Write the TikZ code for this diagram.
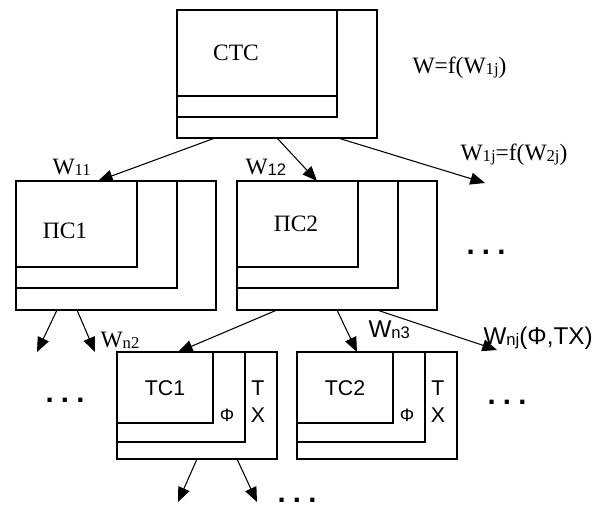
\documentclass[tikz,border=0pt]{standalone}
\usepackage{fontspec}
\setmainfont{Liberation Serif}
\newfontfamily\arialf{Liberation Sans}
\usetikzlibrary{arrows.meta,calc}
\newcommand\sbt[1]{\raisebox{-0.8pt}{\fontsize{12.5}{13}\selectfont #1}}
\newcommand\dotsthree{.\hspace{5.4pt}.\hspace{5.4pt}.}
\begin{document}
\begin{tikzpicture}[x=0.75pt,y=-0.75pt, line width=0.8pt,
  arr/.style={-{Triangle[length=11pt,width=9pt]}},
  box/.style={draw, anchor=north west, inner sep=0pt, outer sep=0pt},
  tm/.style={font=\fontsize{17.6}{20}\selectfont, inner sep=0pt},
  sf/.style={font=\arialf\fontsize{16}{18}\selectfont, inner sep=0pt},
  sfl/.style={font=\arialf\fontsize{18.2}{20}\selectfont, inner sep=0pt},
  sfs/.style={font=\arialf\fontsize{13.5}{15}\selectfont, inner sep=0pt},
  dotn/.style={font=\arialf\bfseries\fontsize{22}{24}\selectfont, inner sep=0pt}]
\useasboundingbox (0,0) rectangle (600,510);

% ---- top box CTC
\node[box, minimum width=150pt, minimum height=96pt] (ctc) at (177,10) {};
\draw ($(ctc.north west)+(160,0)$) -- ++(0,107) -- ++(-160,0);
\draw ($(ctc.north west)+(0,86)$) -- ++(160,0);
\node[tm] (ctct) at (236,53) {CTC};

% ---- PC1
\node[box, minimum width=150pt, minimum height=96.75pt] (pc1) at (16,181) {};
\draw ($(pc1.north west)+(121,0)$) -- ++(0,86) -- ++(-121,0);
\draw ($(pc1.north west)+(161,0)$) -- ++(0,107) -- ++(-161,0);
\node[tm] (pc1t) at (65,231) {ПС1};

% ---- PC2
\node[box, minimum width=150pt, minimum height=96.75pt] (pc2) at (237,181) {};
\draw ($(pc2.north west)+(121,0)$) -- ++(0,86) -- ++(-121,0);
\draw ($(pc2.north west)+(161,0)$) -- ++(0,107) -- ++(-161,0);
\node[tm] (pc2t) at (296,224) {ПС2};

% ---- TC1
\node[box, minimum width=120pt, minimum height=80.25pt] (tc1) at (117,352) {};
\draw ($(tc1.north west)+(96,0)$) -- ++(0,71) -- ++(-96,0);
\draw ($(tc1.north west)+(128,0)$) -- ++(0,90) -- ++(-128,0);
\node[sf] (tc1t) at (165,388) {TC1};
\node[sfs] (tc1f) at (227,415) {Φ};
\node[sf] (tc1a) at (258,388) {T};
\node[sf] (tc1b) at (258,415) {X};

% ---- TC2
\node[box, minimum width=120pt, minimum height=80.25pt] (tc2) at (297,352) {};
\draw ($(tc2.north west)+(96,0)$) -- ++(0,71) -- ++(-96,0);
\draw ($(tc2.north west)+(128,0)$) -- ++(0,90) -- ++(-128,0);
\node[sf] (tc2t) at (345,388) {TC2};
\node[sfs] (tc2f) at (407,415) {Φ};
\node[sf] (tc2a) at (438,388) {T};
\node[sf] (tc2b) at (438,415) {X};

% ---- free arrow ends
\coordinate (e1) at (485,183);
\coordinate (e2) at (37,352);
\coordinate (e3) at (95,352);
\coordinate (e4) at (497,350);
\coordinate (e5) at (178,502);
\coordinate (e6) at (257,502);

% ---- connectors
\draw[arr] ($(ctc.south west)+(38,0)$) -- ($(pc1.north west)+(82,0)$);
\draw[arr] ($(ctc.south west)+(100,0)$) -- ($(pc2.north west)+(80,0)$);
\draw[arr] ($(ctc.south west)+(161,0)$) -- (e1);
\draw[arr] ($(pc1.south west)+(41,0)$) -- (e2);
\draw[arr] ($(pc1.south west)+(61,0)$) -- (e3);
\draw[arr] ($(pc2.south west)+(40,0)$) -- ($(tc1.north west)+(61,0)$);
\draw[arr] ($(pc2.south west)+(100,0)$) -- ($(tc2.north west)+(60,0)$);
\draw[arr] ($(pc2.south west)+(140,0)$) -- (e4);
\draw[arr] ($(tc1.south west)+(80,0)$) -- (e5);
\draw[arr] ($(tc1.south west)+(120,0)$) -- (e6);

% ---- labels
\node[tm, anchor=west] (l1) at (412,68) {W=f(W\sbt{1j})};
\node[tm, anchor=west] (l2) at (460,155) {W\sbt{1j}=f(W\sbt{2j})};
\node[tm, anchor=west] (l3) at (52,167) {W\sbt{11}};
\node[tm, anchor=west] (l4) at (245,167) {W{\arialf\sbt{12}}};
\node[tm, anchor=west] (l5) at (100,340) {W\sbt{n2}};
\node[sfl, anchor=west] (l6) at (368,330) {W\sbt{n3}};
\node[sfl, anchor=west] (l7) at (483,338) {W\sbt{nj}(Φ,TX)};

% ---- dots
\node[dotn] (d1) at (486,252) {\dotsthree};
\node[dotn] (d2) at (65,400) {\dotsthree};
\node[dotn] (d3) at (507,402) {\dotsthree};
\node[dotn] (d4) at (297,500) {\dotsthree};
\end{tikzpicture}
\end{document}
